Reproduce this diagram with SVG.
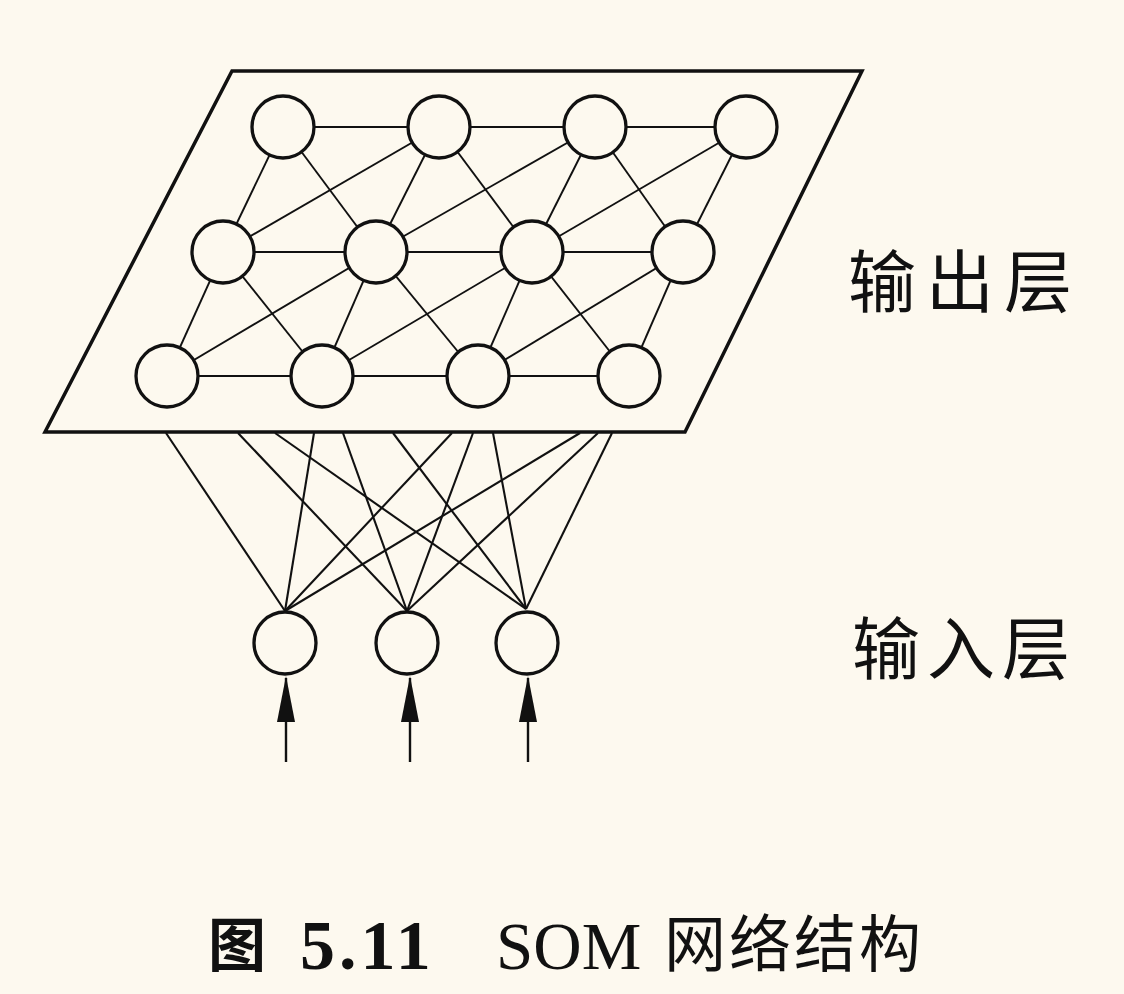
<svg xmlns="http://www.w3.org/2000/svg" width="1124" height="994" viewBox="0 0 1124 994">
<defs>
<style>
.bg{fill:#fdf9ef}
.plane{fill:none;stroke:#111;stroke-width:3.5;stroke-linejoin:miter}
.nd{fill:#fdf9ef;stroke:#111;stroke-width:3.3}
.ln{stroke:#111;stroke-width:1.9;fill:none}
.cn{stroke:#111;stroke-width:2.1;fill:none}
.ar{stroke:#111;stroke-width:2.4;fill:none}
.cjk{font-family:"Noto Sans CJK SC","Noto Sans CJK JP",sans-serif;fill:#111}
.ser{font-family:"Liberation Serif",serif;fill:#111}
</style>
<marker id="ah" viewBox="0 0 46 18" refX="44" refY="9" markerWidth="46" markerHeight="18" markerUnits="userSpaceOnUse" orient="auto">
<path d="M46,9 L0,0 L0,18 Z" fill="#111"/>
</marker>
</defs>
<rect class="bg" x="0" y="0" width="1124" height="994"/>
<g id="output-plane">
<polygon class="plane" points="232,71 862,71 685,432 45,432"/>
</g>
<g id="connectors">
<line class="ln" x1="283" y1="127" x2="439" y2="127"/>
<line class="ln" x1="439" y1="127" x2="595" y2="127"/>
<line class="ln" x1="595" y1="127" x2="746" y2="127"/>
<line class="ln" x1="223" y1="252" x2="376" y2="252"/>
<line class="ln" x1="376" y1="252" x2="532" y2="252"/>
<line class="ln" x1="532" y1="252" x2="683" y2="252"/>
<line class="ln" x1="167" y1="376" x2="322" y2="376"/>
<line class="ln" x1="322" y1="376" x2="478" y2="376"/>
<line class="ln" x1="478" y1="376" x2="629" y2="376"/>
<line class="ln" x1="283" y1="127" x2="223" y2="252"/>
<line class="ln" x1="283" y1="127" x2="376" y2="252"/>
<line class="ln" x1="439" y1="127" x2="223" y2="252"/>
<line class="ln" x1="439" y1="127" x2="376" y2="252"/>
<line class="ln" x1="439" y1="127" x2="532" y2="252"/>
<line class="ln" x1="595" y1="127" x2="376" y2="252"/>
<line class="ln" x1="595" y1="127" x2="532" y2="252"/>
<line class="ln" x1="595" y1="127" x2="683" y2="252"/>
<line class="ln" x1="746" y1="127" x2="532" y2="252"/>
<line class="ln" x1="746" y1="127" x2="683" y2="252"/>
<line class="ln" x1="223" y1="252" x2="167" y2="376"/>
<line class="ln" x1="223" y1="252" x2="322" y2="376"/>
<line class="ln" x1="376" y1="252" x2="167" y2="376"/>
<line class="ln" x1="376" y1="252" x2="322" y2="376"/>
<line class="ln" x1="376" y1="252" x2="478" y2="376"/>
<line class="ln" x1="532" y1="252" x2="322" y2="376"/>
<line class="ln" x1="532" y1="252" x2="478" y2="376"/>
<line class="ln" x1="532" y1="252" x2="629" y2="376"/>
<line class="ln" x1="683" y1="252" x2="478" y2="376"/>
<line class="ln" x1="683" y1="252" x2="629" y2="376"/>
<line class="cn" x1="166" y1="433" x2="285" y2="611"/>
<line class="cn" x1="314" y1="433" x2="285" y2="611"/>
<line class="cn" x1="452" y1="433" x2="285" y2="611"/>
<line class="cn" x1="580" y1="433" x2="285" y2="611"/>
<line class="cn" x1="238" y1="433" x2="407" y2="611"/>
<line class="cn" x1="343" y1="433" x2="407" y2="611"/>
<line class="cn" x1="473" y1="433" x2="407" y2="611"/>
<line class="cn" x1="598" y1="433" x2="407" y2="611"/>
<line class="cn" x1="275" y1="433" x2="526" y2="609"/>
<line class="cn" x1="393" y1="433" x2="526" y2="609"/>
<line class="cn" x1="493" y1="433" x2="526" y2="609"/>
<line class="cn" x1="612" y1="433" x2="526" y2="609"/>
<line class="ar" x1="286" y1="762" x2="286" y2="678" marker-end="url(#ah)"/>
<line class="ar" x1="410" y1="762" x2="410" y2="678" marker-end="url(#ah)"/>
<line class="ar" x1="528" y1="762" x2="528" y2="678" marker-end="url(#ah)"/>
</g>
<g id="out-0-0"><circle class="nd" cx="283" cy="127" r="31"/></g>
<g id="out-0-1"><circle class="nd" cx="439" cy="127" r="31"/></g>
<g id="out-0-2"><circle class="nd" cx="595" cy="127" r="31"/></g>
<g id="out-0-3"><circle class="nd" cx="746" cy="127" r="31"/></g>
<g id="out-1-0"><circle class="nd" cx="223" cy="252" r="31"/></g>
<g id="out-1-1"><circle class="nd" cx="376" cy="252" r="31"/></g>
<g id="out-1-2"><circle class="nd" cx="532" cy="252" r="31"/></g>
<g id="out-1-3"><circle class="nd" cx="683" cy="252" r="31"/></g>
<g id="out-2-0"><circle class="nd" cx="167" cy="376" r="31"/></g>
<g id="out-2-1"><circle class="nd" cx="322" cy="376" r="31"/></g>
<g id="out-2-2"><circle class="nd" cx="478" cy="376" r="31"/></g>
<g id="out-2-3"><circle class="nd" cx="629" cy="376" r="31"/></g>
<g id="in-0"><circle class="nd" cx="285" cy="643" r="31"/></g>
<g id="in-1"><circle class="nd" cx="407" cy="643" r="31"/></g>
<g id="in-2"><circle class="nd" cx="527" cy="643" r="31"/></g>
<g id="label-output"><text class="cjk" x="848" y="307" font-size="68" letter-spacing="10">输出层</text></g>
<g id="label-input"><text class="cjk" x="852" y="674" font-size="68" letter-spacing="7">输入层</text></g>
<g id="caption">
<text class="cjk" x="208" y="966" font-size="58" font-weight="bold">图</text>
<text class="ser" x="300" y="969" font-size="70" font-weight="bold" letter-spacing="4">5.11</text>
<text class="ser" x="496" y="969" font-size="67">SOM</text>
<text class="cjk" x="664" y="967" font-size="62" letter-spacing="3">网络结构</text>
</g>
</svg>
